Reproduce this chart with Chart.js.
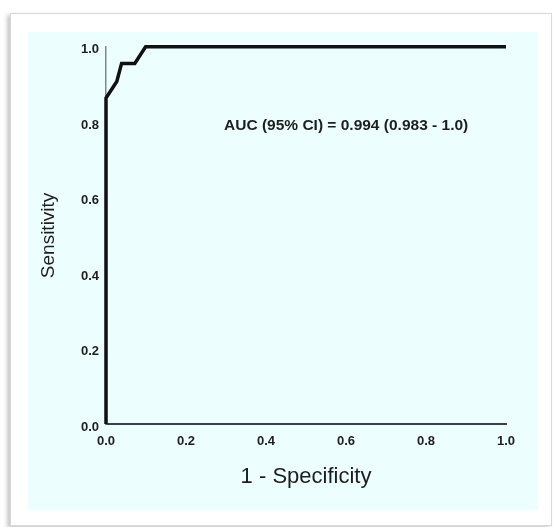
<!DOCTYPE html>
<html>
<head>
<meta charset="utf-8">
<script src="https://cdn.jsdelivr.net/npm/chart.js@4.4.1/dist/chart.umd.min.js"></script>
<style>
  body { margin: 0; background: #ffffff; }
  #frame {
    position: absolute; left: 10px; top: 13px; width: 540px; height: 511px;
    background: #ffffff; border: 1px solid #d9d9d9;
    box-shadow: -3px 2px 4px rgba(0, 0, 0, 0.22);
  }
  #panel {
    position: absolute; left: 28px; top: 32px; width: 510px; height: 478px;
    background: #edfefe;
  }
  canvas { display: block; }
</style>
</head>
<body>
<div id="frame"></div>
<div id="panel"><canvas id="roc" width="510" height="478"></canvas></div>
<script>
// ROC curve points
const fprValues = [0, 0, 0.027, 0.039, 0.072, 0.099, 1.0];
const tprValues = [0, 0.864, 0.908, 0.956, 0.956, 1.0, 1.0];

const xTitle = "1 - Specificity";
const yTitle = "Sensitivity";
const aucText = "AUC (95% CI) = 0.994 (0.983 - 1.0)";
const aucPos = [0.295, 0.79];

const tickFont = { family: "'Liberation Sans', Arial, sans-serif", size: 13, weight: "bold" };

const aucLabel = {
  id: "aucLabel",
  afterDatasetsDraw(chart) {
    const ctx = chart.ctx;
    const x = chart.scales.x.getPixelForValue(aucPos[0]);
    const y = chart.scales.y.getPixelForValue(aucPos[1]);
    ctx.save();
    ctx.font = "bold 15.5px 'Liberation Sans', Arial, sans-serif";
    ctx.fillStyle = "#1e1e1e";
    ctx.textAlign = "left";
    ctx.textBaseline = "middle";
    ctx.fillText(aucText, x, y);
    ctx.restore();
  },
};

const points = fprValues.map((v, i) => ({ x: v, y: tprValues[i] }));

new Chart(document.getElementById("roc").getContext("2d"), {
  type: "scatter",
  data: {
    datasets: [
      {
        data: points,
        showLine: true,
        borderColor: "#111111",
        borderWidth: 3.5,
        pointRadius: 0,
        tension: 0,
        clip: false,
      },
    ],
  },
  options: {
    responsive: false,
    animation: false,
    layout: { padding: { top: 13, right: 32, bottom: 0, left: 0 } },
    plugins: { legend: { display: false }, tooltip: { enabled: false } },
    scales: {
      x: {
        type: "linear",
        min: 0,
        max: 1,
        grid: { display: false, drawTicks: false },
        border: { display: true, color: "#3a3f4c", width: 2 },
        ticks: {
          stepSize: 0.2,
          padding: 10,
          color: "#1e1e1e",
          font: tickFont,
          maxRotation: 0,
          callback: (v) => v.toFixed(1),
        },
        title: {
          display: true,
          text: xTitle,
          color: "#1e1e1e",
          font: { family: "'Liberation Sans', Arial, sans-serif", size: 22 },
          padding: { top: 0, bottom: 20 },
        },
        afterFit: (scale) => { scale.height = 86; },
      },
      y: {
        type: "linear",
        min: 0,
        max: 1,
        grid: { display: false, drawTicks: false },
        border: { display: true, color: "#80858f", width: 1.5 },
        ticks: {
          stepSize: 0.2,
          padding: 7,
          labelOffset: 3,
          color: "#1e1e1e",
          font: tickFont,
          callback: (v) => v.toFixed(1),
        },
        title: {
          display: true,
          text: yTitle,
          color: "#1e1e1e",
          font: { family: "'Liberation Sans', Arial, sans-serif", size: 19 },
          padding: { top: 9, bottom: 0 },
        },
        afterFit: (scale) => { scale.width = 78; },
      },
    },
  },
  plugins: [aucLabel],
});
</script>
</body>
</html>
